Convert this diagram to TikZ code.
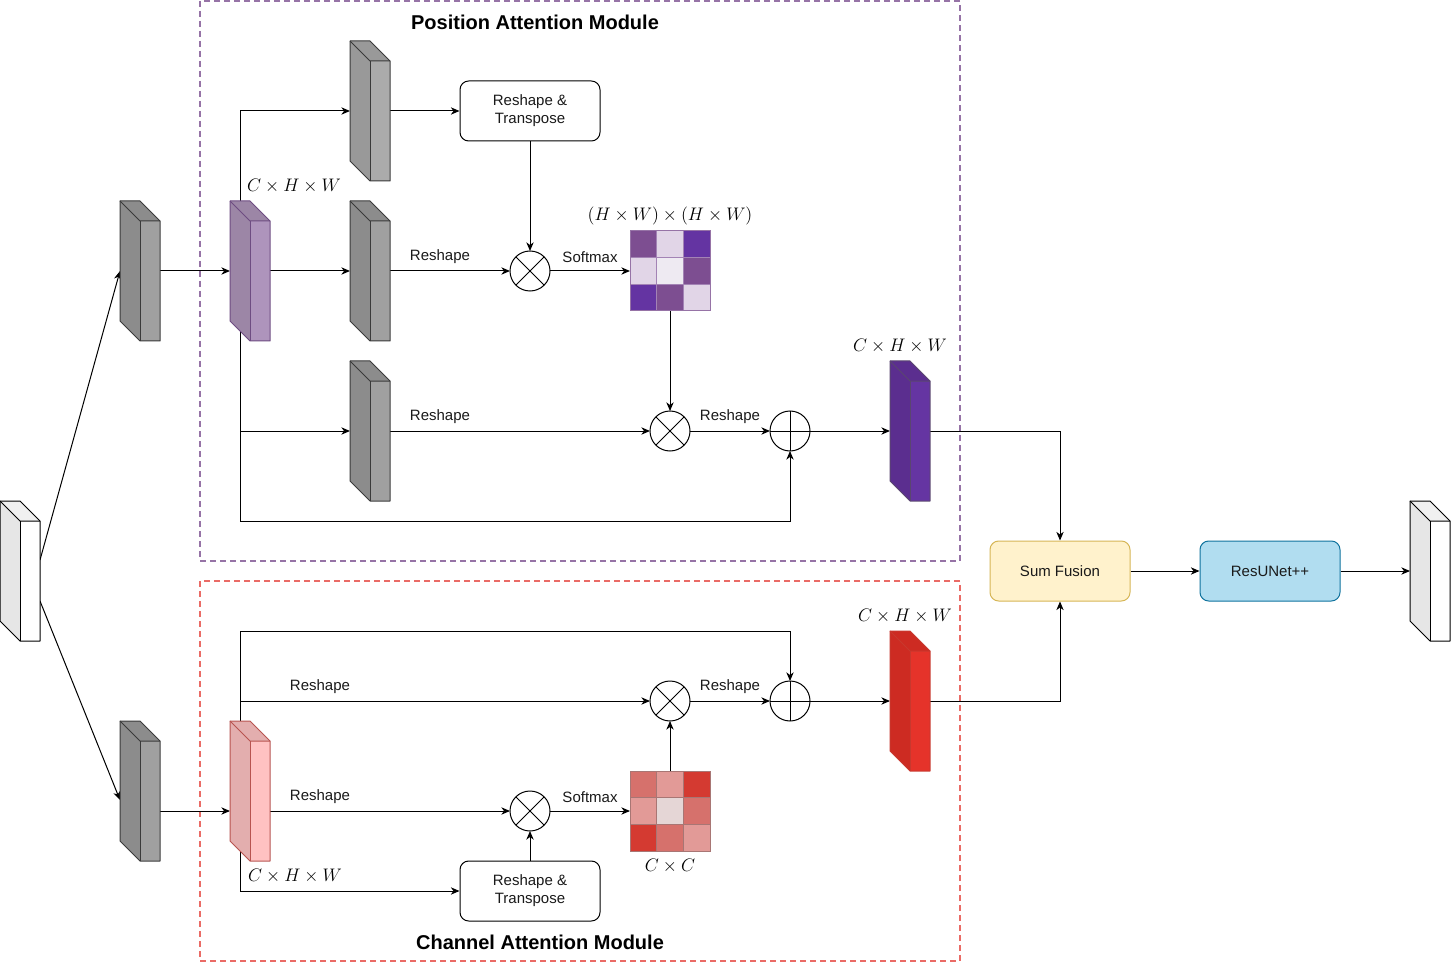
\RequirePackage{fix-cm}
\documentclass[tikz,border=0pt]{standalone}
\usepackage[no-math]{fontspec}
\setmainfont{Liberation Sans}
\usetikzlibrary{arrows.meta,calc}
\definecolor{gside}{HTML}{8C8C8C}
\definecolor{gfront}{HTML}{A0A0A0}
\definecolor{gside2}{HTML}{999999}
\definecolor{gfront2}{HTML}{ABABAB}
\definecolor{gstroke}{HTML}{3A3A3A}
\definecolor{pside}{HTML}{9C86A6}
\definecolor{pfront}{HTML}{AE94BC}
\definecolor{pstroke}{HTML}{6E4C82}
\definecolor{dpside}{HTML}{5B2E8F}
\definecolor{dpfront}{HTML}{6535A2}
\definecolor{dpstroke}{HTML}{5A4670}
\definecolor{kside}{HTML}{E3AEAE}
\definecolor{kfront}{HTML}{FFC2C2}
\definecolor{kstroke}{HTML}{B85450}
\definecolor{rside}{HTML}{CD2B22}
\definecolor{rfront}{HTML}{E5332A}
\definecolor{rstroke}{HTML}{C8382E}
\definecolor{wside}{HTML}{E6E6E6}
\definecolor{wtop}{HTML}{F0F0F0}
\definecolor{pamc}{HTML}{9673A6}
\definecolor{camc}{HTML}{EA6B66}
\definecolor{sffill}{HTML}{FFF2CC}
\definecolor{sfdraw}{HTML}{D6B656}
\definecolor{rufill}{HTML}{B1DDF0}
\definecolor{rudraw}{HTML}{10739E}
\definecolor{pa}{HTML}{7D4E91}
\definecolor{pb}{HTML}{E1D5E7}
\definecolor{pc}{HTML}{6434A2}
\definecolor{pd}{HTML}{EEEAF2}
\definecolor{pmstroke}{HTML}{A383B5}
\definecolor{ra}{HTML}{D6716C}
\definecolor{rb}{HTML}{E29A97}
\definecolor{rc}{HTML}{D43A31}
\definecolor{rd}{HTML}{E5D6D6}
\definecolor{rmstroke}{HTML}{A87674}
\definecolor{txt}{HTML}{1A1A1A}
\tikzset{
  arr/.style={-{Stealth[length=6.5pt,width=5.5pt,inset=2pt]}, line width=0.75pt},
  conn/.style={line width=0.75pt},
  cubebox/.style={draw=none, minimum width=30pt, minimum height=105pt, inner sep=0pt, outer sep=0pt},
  op/.style={circle, draw, fill=white, minimum size=30pt, inner sep=0pt, outer sep=0pt, line width=0.75pt},
  rbox/.style={rounded corners=6.5pt, draw, line width=0.75pt, minimum width=105pt, minimum height=45pt, inner sep=0pt, align=center, text=txt, font=\fontsize{11.25}{13.5}\selectfont},
  lbl/.style={font=\fontsize{11.25}{13.5}\selectfont, text=txt, inner sep=0pt},
  mlbl/.style={font=\fontsize{13.6}{16}\selectfont, inner sep=0pt},
  ttl/.style={font=\bfseries\fontsize{15}{17}\selectfont, inner sep=0pt},
  matbox/.style={minimum size=60pt, inner sep=0pt, outer sep=0pt, draw=none},
}
\newcommand\mycube[5]{% name, side, front, stroke, top
  \fill[#5] (#1.north west) -- ++(20,0) -- ++(20,20) -- ++(-20,0) -- cycle;
  \fill[#2] (#1.north west) -- ++(20,20) -- ++(0,120) -- ++(-20,-20) -- cycle;
  \fill[#3] ($(#1.north west)+(20,20)$) rectangle ++(20,120);
  \draw[#4, line width=0.75pt, line join=round] (#1.north west) -- ++(20,0) -- ++(20,20) -- ++(0,120) -- ++(-20,0) -- ++(-20,-20) -- cycle;
  \draw[#4, line width=0.75pt] (#1.north west) -- ++(20,20) -- ++(20,0);
  \draw[#4, line width=0.75pt] ($(#1.north west)+(20,20)$) -- ++(0,120);
}
\newcommand\mulop[1]{\draw[line width=0.75pt] (#1.north east) -- (#1.south west) (#1.north west) -- (#1.south east);}
\newcommand\addop[1]{\draw[line width=0.75pt] (#1.north) -- (#1.south) (#1.west) -- (#1.east);}
\begin{document}
\begin{tikzpicture}[x=0.75pt,y=-0.75pt]
\useasboundingbox (0,0) rectangle (1452,962);
\fill[white] (0,0) rectangle (1452,962);
% frames
\draw[pamc, line width=1.1pt, dash pattern=on 4.5pt off 3pt] (200,1) rectangle (960,561);
\draw[camc, line width=1.1pt, dash pattern=on 4.5pt off 3pt] (200,581) rectangle (960,961);
\node[ttl] (tpam) at (535,22) {Position Attention Module};
\node[ttl] (tcam) at (540,942) {Channel Attention Module};
% node placement
\node[cubebox] (in) at (20,571) {};
\node[cubebox] (a1) at (140,271) {};
\node[cubebox] (p1) at (250,271) {};
\node[cubebox] (b1) at (370,111) {};
\node[cubebox] (c1) at (370,271) {};
\node[cubebox] (d1) at (370,431) {};
\node[cubebox] (po) at (910,431) {};
\node[cubebox] (e1) at (140,791) {};
\node[cubebox] (pk) at (250,791) {};
\node[cubebox] (ro) at (910,701) {};
\node[cubebox] (out) at (1430,571) {};
\node[rbox] (rt1) at (530,111) {Reshape \&\\Transpose};
\node[rbox] (rt2) at (530,891) {Reshape \&\\Transpose};
\node[op] (x1) at (530,271) {};
\node[op] (x2) at (670,431) {};
\node[op] (s1) at (790,431) {};
\node[op] (x3) at (530,811) {};
\node[op] (x4) at (670,701) {};
\node[op] (s2) at (790,701) {};
\node[matbox] (m1) at (670,271) {};
\node[matbox] (m2) at (670,811) {};
\node[rbox, fill=sffill, draw=sfdraw] (sf) at (1060,571) {Sum Fusion};
\node[rbox, fill=rufill, draw=rudraw] (ru) at (1270,571) {ResUNet++};
\coordinate (tp) at ($(p1.center)+(-10,0)$);
\coordinate (tc) at ($(pk.center)+(-10,0)$);
% connectors PAM
\draw[arr] ($(in.east)+(0,-11)$) -- (a1.west);
\draw[arr] ($(in.east)+(0,30)$) -- ($(e1.west)+(0,9)$);
\draw[arr] (a1.east) -- (p1.west);
\draw[arr] (tp) |- (b1.west);
\draw[arr] (tp) |- (d1.west);
\draw[arr] (tp) -- ++(0,250) -| (s1.south);
\draw[arr] (p1.east) -- (c1.west);
\draw[arr] (b1.east) -- (rt1.west);
\draw[arr] (rt1.south) -- (x1.north);
\draw[arr] (c1.east) -- (x1.west);
\draw[arr] (x1.east) -- (m1.west);
\draw[arr] (m1.south) -- (x2.north);
\draw[arr] (d1.east) -- (x2.west);
\draw[arr] (x2.east) -- (s1.west);
\draw[arr] (s1.east) -- (po.west);
\draw[arr] (po.east) -| (sf.north);
\draw[arr] (sf.east) -- (ru.west);
\draw[arr] (ru.east) -- (out.west);
% connectors CAM
\draw[arr] ($(e1.east)+(0,20)$) -- ($(pk.west)+(0,20)$);
\draw[arr] (tc) -- ++(0,-160) -| (s2.north);
\draw[arr] (tc) |- (x4.west);
\draw[arr] (tc) |- (rt2.west);
\draw[arr] ($(pk.east)+(0,20)$) -- (x3.west);
\draw[arr] (rt2.north) -- (x3.south);
\draw[arr] (x3.east) -- (m2.west);
\draw[arr] (m2.north) -- (x4.south);
\draw[arr] (x4.east) -- (s2.west);
\draw[arr] (s2.east) -- (ro.west);
\draw[arr] (ro.east) -| (sf.south);
% cubes
\mycube{in}{wside}{white}{black}{wtop}
\mycube{out}{wside}{white}{black}{wtop}
\mycube{a1}{gside}{gfront}{gstroke}{gside}
\mycube{b1}{gside2}{gfront2}{gstroke}{gside2}
\mycube{c1}{gside}{gfront}{gstroke}{gside}
\mycube{d1}{gside}{gfront}{gstroke}{gside}
\mycube{e1}{gside}{gfront}{gstroke}{gside}
\mycube{p1}{pside}{pfront}{pstroke}{pside}
\mycube{pk}{kside}{kfront}{kstroke}{kside}
\mycube{po}{dpside}{dpfront}{dpstroke}{dpside}
\mycube{ro}{rside}{rfront}{rstroke}{rside}
% operators
\mulop{x1}\mulop{x2}\mulop{x3}\mulop{x4}
\addop{s1}\addop{s2}
% matrices
\foreach \i/\j/\c in {0/0/pa,1/0/pb,2/0/pc,0/1/pb,1/1/pd,2/1/pa,0/2/pc,1/2/pa,2/2/pb}
  \filldraw[fill=\c, draw=pmstroke, line width=0.75pt] ($(m1.north west)+(\i*80/3,\j*80/3)$) rectangle ++(80/3,80/3);
\draw[pamc, line width=0.75pt] (m1.north west) rectangle (m1.south east);
\foreach \i/\j/\c in {0/0/ra,1/0/rb,2/0/rc,0/1/rb,1/1/rd,2/1/ra,0/2/rc,1/2/ra,2/2/rb}
  \filldraw[fill=\c, draw=rmstroke, line width=0.75pt] ($(m2.north west)+(\i*80/3,\j*80/3)$) rectangle ++(80/3,80/3);
\draw[rmstroke, line width=0.75pt] (m2.north west) rectangle (m2.south east);
% labels
\node[lbl] (l1) at (440,257) {Reshape};
\node[lbl] (l2) at (590,257) {Softmax};
\node[lbl] (l3) at (440,417) {Reshape};
\node[lbl] (l4) at (730,417) {Reshape};
\node[lbl] (l5) at (320,687) {Reshape};
\node[lbl] (l6) at (730,687) {Reshape};
\node[lbl] (l7) at (320,797) {Reshape};
\node[lbl] (l8) at (590,797) {Softmax};
\node[mlbl] (k1) at (294,186) {$C\times H\times W$};
\node[mlbl] (k2) at (670,216) {$(H\times W)\times(H\times W)$};
\node[mlbl] (k3) at (900,346) {$C\times H\times W$};
\node[mlbl] (k4) at (905,616) {$C\times H\times W$};
\node[mlbl] (k5) at (295,876) {$C\times H\times W$};
\node[mlbl] (k6) at (670,866) {$C\times C$};
\end{tikzpicture}
\end{document}
